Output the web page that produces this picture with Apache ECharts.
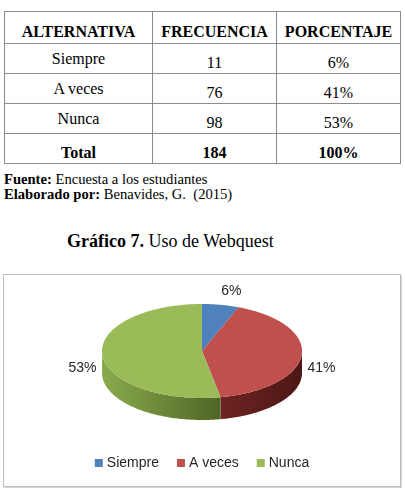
<!DOCTYPE html>
<html>
<head>
<meta charset="utf-8">
<script src="https://cdn.jsdelivr.net/npm/echarts@6/dist/echarts.min.js"></script>
<style>
  body { margin: 0; width: 405px; height: 490px; background: #fff; position: relative; overflow: hidden; font-family: "Liberation Serif", serif; color: #000; }
  table { position: absolute; left: 4px; top: 11px; border-collapse: collapse; font-family: "Liberation Serif", serif; }
  td, th { border: 1px solid #8c8c8c; font-size: 16px; text-align: center; padding: 0; height: 29px; line-height: 18px; }
  th { font-weight: bold; vertical-align: bottom; padding-bottom: 2px; }
  td.lbl { vertical-align: top; padding-top: 6px; height: 23px; }
  td.num { vertical-align: bottom; padding-bottom: 1px; height: 28px; }
  tr.total td { font-weight: bold; }
  .note { position: absolute; left: 4px; font-family: "Liberation Serif", serif; font-size: 14.6px; line-height: 15px; }
  .title { position: absolute; left: 67px; top: 231px; font-family: "Liberation Serif", serif; font-size: 18px; }
  .box { position: absolute; left: 3px; top: 274px; width: 396px; height: 211px; border: 1px solid #bdbdbd; box-shadow: 1px 1px 0 #d6d6d6; }
  #chart { width: 396px; height: 211px; }
</style>
</head>
<body>
<table id="tbl"></table>
<div class="note" style="top:172px"><b>Fuente:</b> Encuesta a los estudiantes</div>
<div class="note" style="top:187px"><b>Elaborado por:</b> Benavides, G.&nbsp; (2015)</div>
<div class="title"><b>Gráfico 7.</b> Uso de Webquest</div>
<div class="box"><div id="chart"></div></div>
<script>
const headers = ["ALTERNATIVA", "FRECUENCIA", "PORCENTAJE"];
const categories = ["Siempre", "A veces", "Nunca"];
const frequencies = [11, 76, 98];
const percentLabels = ["6%", "41%", "53%"];
const totalRow = ["Total", "184", "100%"];

const topColors = ["#4f81bd", "#c0504d", "#9bbb59"];
const sideColors = [
  ["#3a5f8c", "#2c4869"],
  ["#6e2422", "#4c1715"],
  ["#8aab4c", "#506527"],
];

// table
const tbl = document.getElementById("tbl");
const colW = [147, 123, 123];
let html = "<tr>" + headers.map((h, i) => `<th style="width:${colW[i]}px">${h}</th>`).join("") + "</tr>";
categories.forEach((c, i) => {
  html += `<tr><td class="lbl">${c}</td><td class="num">${frequencies[i]}</td><td class="num">${percentLabels[i]}</td></tr>`;
});
html += `<tr class="total">` + totalRow.map((t) => `<td class="num">${t}</td>`).join("") + "</tr>";
tbl.innerHTML = html;

// pie
const total = frequencies.reduce((a, b) => a + b, 0);
const startAngles = [];
let acc = -Math.PI / 2;
frequencies.forEach((v) => {
  startAngles.push(acc);
  acc += (v / total) * Math.PI * 2;
});

const cx = 198, cy = 76, rx = 100, ry = 47, depth = 22;

function arcPts(a0, a1, dy) {
  const pts = [];
  const n = Math.max(2, Math.ceil(((a1 - a0) * 180) / Math.PI));
  for (let k = 0; k <= n; k++) {
    const a = a0 + ((a1 - a0) * k) / n;
    pts.push([cx + rx * Math.cos(a), cy + ry * Math.sin(a) + dy]);
  }
  return pts;
}

function makeRender(idx) {
  return function (params, api) {
    const a0 = startAngles[idx];
    const a1 = a0 + (frequencies[idx] / total) * Math.PI * 2;
    const children = [];

    // front wall, only the part between 0 and PI shows
    const s0 = Math.max(a0, 0), s1 = Math.min(a1, Math.PI);
    if (s1 > s0) {
      const topArc = arcPts(s0, s1, 0);
      const botArc = arcPts(s0, s1, depth).reverse();
      children.push({
        type: "polygon",
        z2: 1,
        shape: { points: topArc.concat(botArc) },
        style: {
          fill: new echarts.graphic.LinearGradient(0, 0, 1, 0, [
            { offset: 0, color: sideColors[idx][0] },
            { offset: 1, color: sideColors[idx][1] },
          ]),
        },
      });
    }

    // top face
    children.push({
      type: "polygon",
      z2: 10,
      shape: { points: [[cx, cy]].concat(arcPts(a0, a1, 0)) },
      style: { fill: topColors[idx] },
    });

    // label
    const m = (a0 + a1) / 2;
    const sm = Math.sin(m);
    children.push({
      type: "text",
      z2: 20,
      x: cx + (rx + 20) * Math.cos(m) + (sm < -0.9 ? 7 : 0),
      y: cy + (ry + 14) * sm + (sm > 0 ? depth / 2 : 0),
      style: {
        text: percentLabels[idx],
        fill: "#262626",
        font: '14px "Liberation Sans", sans-serif',
        align: "center",
        verticalAlign: "middle",
      },
    });

    return { type: "group", children };
  };
}

const chart = echarts.init(document.getElementById("chart"));
chart.setOption({
  animation: false,
  legend: {
    data: categories,
    bottom: 11,
    left: "center",
    icon: "rect",
    itemWidth: 8,
    itemHeight: 8,
    itemGap: 18,
    textStyle: { fontSize: 14, color: "#262626", fontFamily: "Liberation Sans", padding: [0, 0, 0, -1] },
  },
  series: categories.map((c, i) => ({
    name: c,
    type: "custom",
    coordinateSystem: "none",
    itemStyle: { color: topColors[i] },
    data: [frequencies[i]],
    renderItem: makeRender(i),
  })),
});
</script>
</body>
</html>
